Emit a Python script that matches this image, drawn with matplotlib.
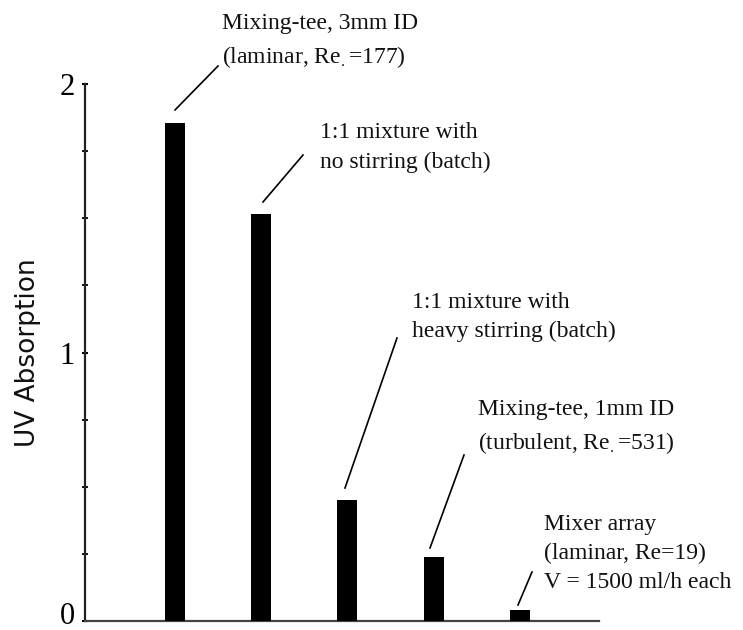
import matplotlib
matplotlib.use("Agg")
import matplotlib.pyplot as plt
from matplotlib.ticker import MultipleLocator
from matplotlib.transforms import ScaledTranslation

plt.rcParams['mathtext.fontset'] = 'stix'

# ---- data ----
positions = [1, 2, 3, 4, 5]
values = [1.855, 1.517, 0.45, 0.238, 0.041]
labels = [
    "Mixing-tee, 3mm ID\n(laminar, Re$_{.}$=177)",
    "1:1 mixture with\nno stirring (batch)",
    "1:1 mixture with\nheavy stirring (batch)",
    "Mixing-tee, 1mm ID\n(turbulent, Re$_{.}$=531)",
    "Mixer array\n(laminar, Re=19)\nV = 1500 ml/h each",
]
yticks = [0, 1, 2]
ylabel = "UV Absorption"

W, H = 743, 630
fig = plt.figure(figsize=(W / 100, H / 100), dpi=100)
ax_l, ax_r, ax_b, ax_t = 85, 599, 621, 84
ax = fig.add_axes([ax_l / W, 1 - ax_b / H, (ax_r - ax_l) / W, (ax_b - ax_t) / H])
xlim = (-0.045, 5.92)
ylim = (0, 2)
ax.set_xlim(*xlim)
ax.set_ylim(*ylim)

ax.bar(positions, values, width=0.232, color='black', zorder=3)

for s in ['top', 'right']:
    ax.spines[s].set_visible(False)
ax.spines['left'].set_linewidth(1.6)
ax.spines['left'].set_color('#222222')
ax.spines['bottom'].set_linewidth(1.6)
ax.spines['bottom'].set_color('#444444')

ax.set_xticks([])
ax.set_yticks(yticks)
ax.set_yticklabels([str(t) for t in yticks], fontfamily='Liberation Serif', fontsize=22)
ax.yaxis.set_minor_locator(MultipleLocator(0.25))
ax.tick_params(axis='y', which='major', direction='inout', length=5, width=1.5, pad=5)
ax.tick_params(axis='y', which='minor', direction='inout', length=4, width=1.3)

# lift the "0" label slightly so it stays inside the figure
lab0 = ax.yaxis.get_majorticklabels()[0]
lab0.set_transform(lab0.get_transform() + ScaledTranslation(0, 8 / 100, fig.dpi_scale_trans))

ax.set_ylabel(ylabel, fontfamily='DejaVu Sans', fontsize=19, labelpad=13, color='#111111')


def px2data(px, py):
    sx = (ax_r - ax_l) / (xlim[1] - xlim[0])
    sy = (ax_b - ax_t) / (ylim[1] - ylim[0])
    return xlim[0] + (px - ax_l) / sx, ylim[0] + (ax_b - py) / sy


# text anchor (left, vertical center) and leader line endpoints in pixel coords
text_px = [(222, 41.5), (320, 147.5), (412, 317), (478, 427.5), (544, 553.5)]
lead_px = [((175, 110), (218, 66)), ((263, 202), (303, 155)), ((345, 488), (397, 338)),
           ((430, 548), (464, 455)), ((518, 605), (532, 572))]

for lab, tp, (p0, p1) in zip(labels, text_px, lead_px):
    tx, ty = px2data(*tp)
    ax.text(tx, ty, lab, ha='left', va='center', fontfamily='Liberation Serif',
            fontsize=17, linespacing=1.5, clip_on=False, color='#111111')
    x0, y0 = px2data(*p0)
    x1, y1 = px2data(*p1)
    ax.plot([x0, x1], [y0, y1], color='black', lw=1.2, clip_on=False)

fig.savefig("out.png", dpi=100)
